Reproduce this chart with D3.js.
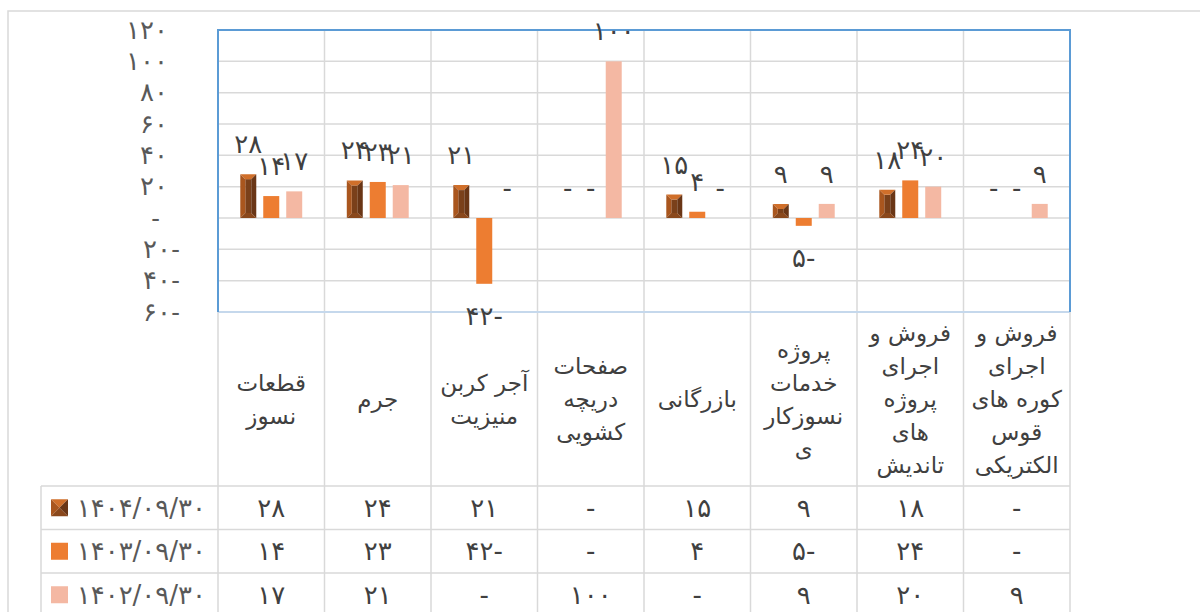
<!DOCTYPE html>
<html>
<head>
<meta charset="utf-8">
<script src="https://cdn.jsdelivr.net/npm/d3@7"></script>
<style>
  body { margin: 0; background: #fff; }
  svg { display: block; font-family: "DejaVu Sans", sans-serif; }
  .grid { stroke: #d9d9d9; stroke-width: 1.5; }
  .lbl { fill: #404040; font-size: 26px; }
  .cat { fill: #404040; font-size: 23px; }
</style>
</head>
<body>
<div id="chart"></div>
<script>
// data
var categories = [
  ["قطعات", "نسوز"],
  ["جرم"],
  ["آجر کربن", "منیزیت"],
  ["صفحات", "دریچه", "کشویی"],
  ["بازرگانی"],
  ["پروژه", "خدمات", "نسوزکار", "ی"],
  ["فروش و", "اجرای", "پروژه", "های", "تاندیش"],
  ["فروش و", "اجرای", "کوره های", "قوس", "الکتریکی"]
]
var seriesNames = ["۱۴۰۴/۰۹/۳۰", "۱۴۰۳/۰۹/۳۰", "۱۴۰۲/۰۹/۳۰"]
var values1404 = [28, 24, 21, 0, 15, 9, 18, 0]
var values1403 = [14, 23, -42, 0, 4, -5, 24, 0]
var values1402 = [17, 21, 0, 100, 0, 9, 20, 9]
var yTicks = [-60, -40, -20, 0, 20, 40, 60, 80, 100, 120]

var seriesValues = [values1404, values1403, values1402]
var colors = ["#7e421b", "#ed7d31", "#f4b8a3"]

var width = 1200, height = 612
var margin = {left: 218, right: 130, top: 30, bottom: 300}
var plotBottom = height - margin.bottom
var catTop = plotBottom, tableTop = 486, rowH = 43.5

var fa = function(n) { return String(n).replace(/\d/g, function(d) { return "۰۱۲۳۴۵۶۷۸۹"[d] }) }
var fmt = function(v) { return v === 0 ? "-" : v < 0 ? fa(-v) + "-" : fa(v) }

var svg = d3.select("#chart").append("svg").attr("width", width).attr("height", height)

var x = d3.scaleBand().domain(d3.range(categories.length)).range([margin.left, width - margin.right])
var xs = d3.scaleBand().domain([0, 1, 2]).range([0, x.bandwidth()]).paddingInner(0.304).paddingOuter(0.97)
var y = d3.scaleLinear().domain([-60, 120]).range([plotBottom, margin.top])

// outer chart frame
svg.append("path").attr("d", "M8," + height + "V11H" + width)
  .attr("fill", "none").attr("stroke", "#d9d9d9").attr("stroke-width", 1.5)

// horizontal grid
svg.selectAll("line.hgrid").data(yTicks).enter().append("line")
  .attr("class", "grid")
  .attr("x1", margin.left).attr("x2", width - margin.right)
  .attr("y1", function(d) { return y(d) }).attr("y2", function(d) { return y(d) })

// vertical lines through plot and table
var bounds = x.domain().map(function(i) { return x(i) }).concat([x.range()[1]])
svg.selectAll("line.vgrid").data(bounds).enter().append("line")
  .attr("class", "grid")
  .attr("x1", function(d) { return d }).attr("x2", function(d) { return d })
  .attr("y1", margin.top).attr("y2", height)

// table rows
var rowLines = d3.range(seriesNames.length + 1).map(function(i) { return tableTop + i * rowH })
svg.selectAll("line.row").data(rowLines).enter().append("line")
  .attr("class", "grid")
  .attr("x1", 41).attr("x2", x.range()[1])
  .attr("y1", function(d) { return d }).attr("y2", function(d) { return d })
svg.append("line").attr("class", "grid").attr("x1", 41).attr("x2", 41).attr("y1", tableTop).attr("y2", height)

// plot border
svg.append("line").attr("x1", margin.left).attr("x2", width - margin.right)
  .attr("y1", plotBottom).attr("y2", plotBottom).attr("stroke", "#c5d8ec").attr("stroke-width", 2)
svg.append("path")
  .attr("d", "M" + margin.left + "," + plotBottom + "V" + margin.top + "H" + (width - margin.right) + "V" + plotBottom)
  .attr("fill", "none").attr("stroke", "#5b9bd5").attr("stroke-width", 2)

// bevelled box for the first series
function bevel(g, bx, by, w, h, b) {
  b = Math.min(b, w / 2, h / 2)
  var faces = [
    {c: "#7a401a", p: [[bx + b, by + b], [bx + w - b, by + b], [bx + w - b, by + h - b], [bx + b, by + h - b]]},
    {c: "#d06f2a", p: [[bx, by], [bx + w, by], [bx + w - b, by + b], [bx + b, by + b]]},
    {c: "#a9561e", p: [[bx, by], [bx + b, by + b], [bx + b, by + h - b], [bx, by + h]]},
    {c: "#6a3616", p: [[bx + w, by], [bx + w, by + h], [bx + w - b, by + h - b], [bx + w - b, by + b]]},
    {c: "#8a481c", p: [[bx, by + h], [bx + b, by + h - b], [bx + w - b, by + h - b], [bx + w, by + h]]}
  ]
  faces.forEach(function(f) {
    g.append("polygon").attr("points", f.p.map(function(q) { return q.join(",") }).join(" ")).attr("fill", f.c)
  })
}

// bars
var barData = []
seriesValues.forEach(function(vals, s) {
  vals.forEach(function(v, i) { barData.push({s: s, i: i, v: v}) })
})
var bars = svg.append("g")
barData.forEach(function(d) {
  var bx = x(d.i) + xs(d.s), bw = xs.bandwidth()
  var top = y(Math.max(0, d.v)), h = Math.abs(y(d.v) - y(0))
  if (h === 0) return
  if (d.s === 0) bevel(bars, bx, top, bw, h, 5)
  else bars.append("rect").attr("x", bx).attr("y", top).attr("width", bw).attr("height", h).attr("fill", colors[d.s])
})

// data labels
svg.selectAll("text.dl").data(barData).enter().append("text")
  .attr("class", "lbl")
  .attr("text-anchor", "middle").attr("dominant-baseline", "central")
  .attr("x", function(d) { return x(d.i) + xs(d.s) + xs.bandwidth() / 2 })
  .attr("y", function(d) { return d.v < 0 ? y(d.v) + 32 : y(d.v) - 30 })
  .text(function(d) { return fmt(d.v) })

// y axis
var yAxis = d3.axisLeft(y).tickValues(yTicks).tickSize(0).tickFormat(fmt)
var ya = svg.append("g").attr("transform", "translate(" + margin.left + ",0)").call(yAxis)
ya.select(".domain").remove()
ya.selectAll(".tick text")
  .attr("class", "lbl").attr("fill", null).style("font-size", "26px").style("fill", "#595959")
  .attr("x", function(d) { return d < 0 ? -38 : d === 0 ? -58 : -50 })

// category labels
var catMid = (catTop + tableTop) / 2, lineH = 33
var cats = svg.selectAll("text.cat").data(categories).enter().append("text")
  .attr("class", "cat").attr("text-anchor", "middle").attr("direction", "rtl")
  .attr("dominant-baseline", "central")
cats.selectAll("tspan").data(function(d, i) { return d.map(function(t, k) { return {t: t, k: k, n: d.length, i: i} }) })
  .enter().append("tspan")
  .attr("x", function(d) { return x(d.i) + x.bandwidth() / 2 })
  .attr("y", function(d) { return catMid + (d.k - (d.n - 1) / 2) * lineH })
  .text(function(d) { return d.t })

// data table with legend keys
seriesNames.forEach(function(name, s) {
  var cy = tableTop + rowH * s + rowH / 2
  var key = svg.append("g")
  if (s === 0) bevel(key, 51, cy - 8.5, 17, 17, 8.5)
  else key.append("rect").attr("x", 51).attr("y", cy - 8.5).attr("width", 17).attr("height", 17).attr("fill", colors[s])
  svg.append("text").attr("class", "lbl").style("fill", "#595959")
    .attr("x", 206).attr("y", cy).attr("text-anchor", "end").attr("dominant-baseline", "central")
    .text(name)
  svg.selectAll(null).data(seriesValues[s]).enter().append("text")
    .attr("class", "lbl").attr("text-anchor", "middle").attr("dominant-baseline", "central")
    .attr("x", function(d, i) { return x(i) + x.bandwidth() / 2 })
    .attr("y", cy)
    .text(function(d) { return fmt(d) })
})
</script>
</body>
</html>
